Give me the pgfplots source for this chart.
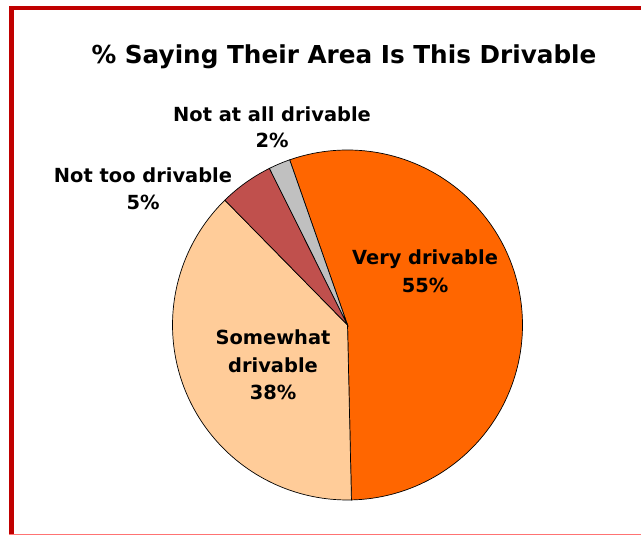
\documentclass[border=0pt]{standalone}
\usepackage{pgfplots}
\pgfplotsset{compat=1.18}
\usepackage{pgfplotstable}
\usepackage{fontspec}
\setmainfont{DejaVu Sans}
\definecolor{cVery}{HTML}{FF6600}
\definecolor{cSome}{HTML}{FFCC99}
\definecolor{cNotToo}{HTML}{C0504D}
\definecolor{cNotAll}{HTML}{C0C0C0}
\definecolor{frameRed}{HTML}{C00000}
\pgfplotstableread{
category value
Very 55
Somewhat 38
NotToo 5
NotAtAll 2
}\piedata
\begin{document}
\begin{tikzpicture}[x=1bp,y=1bp]
\useasboundingbox (0,0) rectangle (641,535);
\pgfplotstablegetelem{0}{value}\of\piedata \let\vA\pgfplotsretval
\pgfplotstablegetelem{1}{value}\of\piedata \let\vB\pgfplotsretval
\pgfplotstablegetelem{2}{value}\of\piedata \let\vC\pgfplotsretval
\pgfplotstablegetelem{3}{value}\of\piedata \let\vD\pgfplotsretval
\pgfmathsetmacro{\aA}{109.3}
\pgfmathsetmacro{\aB}{\aA-3.6*\vA}
\pgfmathsetmacro{\aC}{\aB-3.6*\vB}
\pgfmathsetmacro{\aD}{\aC-3.6*\vC}
\pgfmathsetmacro{\aE}{\aD-3.6*\vD}
\begin{axis}[at={(0,0)}, anchor=south west, scale only axis,
  width=641bp, height=535bp, xmin=0, xmax=641, ymin=0, ymax=535,
  hide axis, clip=false]
\addplot[fill=cVery, draw=black, line width=0.7pt, domain=\aB:\aA, samples=120]
  ({347.5+175*cos(x)},{210+175*sin(x)}) -- (347.5,210) -- cycle;
\addplot[fill=cSome, draw=black, line width=0.7pt, domain=\aC:\aB, samples=100]
  ({347.5+175*cos(x)},{210+175*sin(x)}) -- (347.5,210) -- cycle;
\addplot[fill=cNotToo, draw=black, line width=0.7pt, domain=\aD:\aC, samples=20]
  ({347.5+175*cos(x)},{210+175*sin(x)}) -- (347.5,210) -- cycle;
\addplot[fill=cNotAll, draw=black, line width=0.7pt, domain=\aE:\aD, samples=10]
  ({347.5+175*cos(x)},{210+175*sin(x)}) -- (347.5,210) -- cycle;
% frame
\draw[frameRed, line width=4.5bp] (11.5,0) -- (11.5,527) -- (641,527);
\draw[red!55, line width=1bp] (9,0.5) -- (641,0.5);
% title
\node[anchor=base, font=\bfseries\fontsize{24.8}{28}\selectfont] at (344,471) {\% Saying Their Area Is This Drivable};
% labels
\begin{scope}[every node/.style={anchor=base, font=\bfseries\fontsize{19.5}{23}\selectfont}]
\node at (272,413) {Not at all drivable};
\node at (272,387) {2\%};
\node at (143,352) {Not too drivable};
\node at (143,325) {5\%};
\node at (425,270) {Very drivable};
\node at (425,242) {55\%};
\node at (273,190) {Somewhat};
\node at (273,162) {drivable};
\node at (273,135) {38\%};
\end{scope}
\end{axis}
\end{tikzpicture}
\end{document}
